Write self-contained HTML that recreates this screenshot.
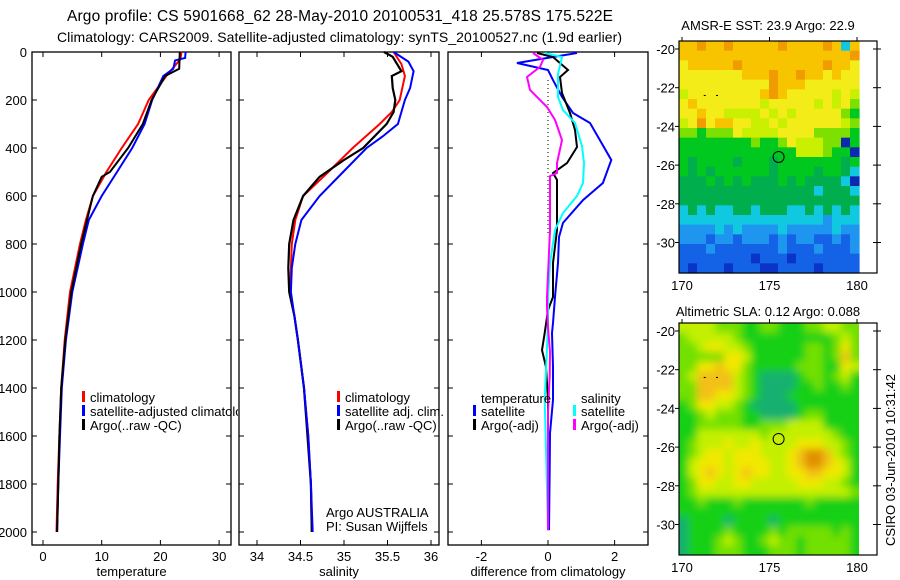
<!DOCTYPE html>
<html><head><meta charset="utf-8"><style>
body{margin:0;background:#fff;}
svg{display:block;font-family:"Liberation Sans",sans-serif;}
</style></head><body>
<svg id="fig" width="900" height="580" viewBox="0 0 900 580">
<defs>
<clipPath id="legclip"><rect x="0" y="380" width="238" height="60"/></clipPath>
<clipPath id="slaclip"><rect x="679" y="323" width="180" height="232"/></clipPath>
<filter id="soft" x="-20%" y="-20%" width="140%" height="140%"><feGaussianBlur stdDeviation="4"/></filter>
</defs>
<rect width="900" height="580" fill="#fff"/>
<text x="67" y="21" font-size="15.5" textLength="546" lengthAdjust="spacing">Argo profile: CS 5901668_62 28-May-2010 20100531_418 25.578S 175.522E</text>
<text x="57" y="42" font-size="14" textLength="565" lengthAdjust="spacing">Climatology: CARS2009. Satellite-adjusted climatology: synTS_20100527.nc (1.9d earlier)</text>
<text x="768" y="30" font-size="13" text-anchor="middle">AMSR-E SST: 23.9 Argo: 22.9</text>
<text x="768" y="316" font-size="13" text-anchor="middle">Altimetric SLA: 0.12 Argo: 0.088</text>
<text transform="translate(895,460) rotate(-90)" font-size="13" text-anchor="middle">CSIRO 03-Jun-2010 10:31:42</text>
<g id="plots"></g>
</svg>
<script>
// ---------- profile data ----------
const tempArgoDepth = [0,70,100,200,300,400,500,520,600,700,800,1000,1200,1400,1600,1800,2000];
const tempArgo = [23.3,23.2,20.8,18.5,17,14.5,11.4,10,8.5,7.5,6.5,4.8,3.8,3.1,2.8,2.6,2.4];
const tempClimDepth = [0,30,100,200,300,400,500,600,700,800,1000,1200,1400,1600,1800,2000];
const tempClim = [23.6,23.4,21,18,16.2,13.4,10.8,8.5,7.3,6.3,4.6,3.7,3.1,2.8,2.5,2.3];
const tempSatDepth = [0,25,35,70,100,200,300,400,500,600,700,800,1000,1200,1400,1600,1800,2000];
const tempSat = [24.3,24.2,22.5,22.2,20.5,18.6,17.3,15.2,12.6,10,7.8,6.8,5.0,3.9,3.2,2.9,2.6,2.4];

const salArgoDepth = [0,20,80,100,150,200,250,300,400,450,520,600,700,800,900,1000,1100,1200,1400,1600,1800,2000];
const salArgo = [35.46,35.56,35.66,35.55,35.56,35.59,35.57,35.49,35.22,35.0,34.72,34.53,34.42,34.37,34.36,34.37,34.43,34.47,34.54,34.58,34.62,34.63];
const salClimDepth = [0,50,100,200,250,300,400,500,600,700,800,1000,1100,1200,1400,1600,1800,2000];
const salClim = [35.57,35.66,35.7,35.64,35.55,35.41,35.1,34.82,34.53,34.44,34.4,34.38,34.43,34.47,34.54,34.59,34.62,34.63];
const salSatDepth = [0,40,80,150,200,300,350,400,500,600,700,800,900,1000,1100,1200,1400,1600,1800,2000];
const salSat = [35.57,35.74,35.8,35.76,35.7,35.62,35.45,35.26,34.99,34.72,34.51,34.44,34.4,34.39,34.43,34.47,34.54,34.59,34.62,34.64];

const dTempSatDepth = [4,46,75,117,187,254,296,367,450,546,617,712,771,879,1021,1129,1171,1312,1450,1588,1729,1992];
const dTempSat = [0.87,-0.93,0,0.15,0.42,0.75,1.26,1.56,1.9,1.65,1.05,0.45,0.33,0.3,0.21,0.15,0.12,0.15,0.15,0.06,0.05,0.03];
const dTempArgoDepth = [4,21,75,104,171,254,325,396,463,504,533,604,742,879,1021,1075,1171,1242,1312,1450,1700,1992];
const dTempArgo = [-0.33,0.15,0.6,0.36,0.42,0.66,0.81,0.87,0.57,0.15,0.27,0.27,0.27,0.15,0.15,0,-0.1,-0.18,-0.06,0,0,0];
const dSalSatDepth = [4,21,92,187,242,296,392,463,546,600,671,742,879,1021,1129,1300,1450,1700,1992];
const dSalSat = [-0.09,0.42,0.3,0.3,0.45,0.81,1.02,1.08,1.05,0.87,0.45,0.21,0.06,0,0,-0.05,-0.1,-0.05,0];
const dSalArgoDepth = [4,33,62,104,158,229,283,367,463,504,517,742,1021,1063,1150,1250,1350,1500,1992];
const dSalArgo = [-0.45,-0.15,-0.24,-0.63,-0.54,-0.03,0.21,0.42,0.27,0.27,0.06,0.06,-0.03,-0.03,0,0.06,0.05,0,0];

const depthTicks = [0,200,400,600,800,1000,1200,1400,1600,1800,2000];
const tempTicks = [0,10,20,30];
const salTicks = [34,34.5,35,35.5,36];
const salTickLabels = ["34","34.5","35","35.5","36"];
const diffTicks = [-2,0,2];

// ---------- map data ----------
const mapLonTicks = [170,175,180];
const mapLatTicks = [-20,-22,-24,-26,-28,-30];
const sstRows = [
 "99a99a99999a9999a939","9999999999999999999a","899999a999999999a998","8888888999a99a998988",
 "8888888888a999888888","7888888889a988888787","89888888878888878786",
 "88988777787878888865","78a89988778788888876","66566687777888866665",
 "555555556556877766b5","5555555555555777655b","54555545554555555545","54545555554555545543",
 "4445454544454544443b","44444444444444434443","44444444444444444444","34343344344433434343",
 "33333333333333332333","22223232222322222322","22212212221212211212","11121111111211121112",
 "11111111011101111111","10111011100111101111"];
const slaRows = [
 "33332221122111223322","23333321111111111232","22344332111111221242","22222443111111221252",
 "22445442111112221143","23555532100001221231","22555532100001121121","22554432100011111111",
 "12443321000001111111","11232221100001221111","11222221122233331111","11333333323333333211",
 "12333433433334443321","12344344433345665321","13444344443345665431","13454345443344554431",
 "12443344333334443321","12333333333333333332","11211121111111211111","11111111111111111111",
 "01111011110111111111","01111211112122222121","01112321123221222221","01112221112221222221"];
const sstColors = ["#0a34c8","#1462e6","#1e96f0","#10c8e0","#00ae4e","#00c81e","#7ee000","#c8f000","#f4ec18","#f8c400","#f09c00","#0a2ab0"];
const slaColors = ["#14b070","#14d014","#72e000","#c2f000","#f2e800","#f2c012","#e09000"];
const floatLon = 175.52, floatLat = -25.58;

const NS = "http://www.w3.org/2000/svg";
const root = document.getElementById('plots');
function mk(tag, attrs, parent){
  const e = document.createElementNS(NS, tag);
  for (const k in attrs) e.setAttribute(k, attrs[k]);
  (parent || root).appendChild(e);
  return e;
}
const Y0 = 52, YS = 0.24;
const yD = d => Y0 + d * YS;

function panel(name, left, right, xf, ticks, labels, xlabel){
  const g = mk('g', {});
  
  
  const r = mk('rect', {x:left, y:52, width:right-left, height:493, fill:'none', stroke:'#000', 'stroke-width':1.3}, g);
  
  
  depthTicks.forEach(d => {
    const t1 = mk('line', {x1:left, x2:left+5, y1:yD(d), y2:yD(d), stroke:'#000'}, g);
    
    
    const t2 = mk('line', {x1:right-5, x2:right, y1:yD(d), y2:yD(d), stroke:'#000'}, g);
    
    
  });
  ticks.forEach((v, i) => {
    const x = xf(v);
    const a = mk('line', {x1:x, x2:x, y1:52, y2:57, stroke:'#000'}, g);
    
    
    const b = mk('line', {x1:x, x2:x, y1:540, y2:545, stroke:'#000'}, g);
    
    
    const tl = mk('text', {x:x, y:561, 'font-size':13, 'text-anchor':'middle'}, g);
    tl.textContent = labels[i];
    
    
  });
  const xl = mk('text', {x:(left+right)/2, y:576, 'font-size':13, 'text-anchor':'middle'}, g);
  xl.textContent = xlabel;
  
  
  return g;
}
function line(g, name, xs, ds, xf, color, w){
  const pts = xs.map((v, i) => xf(v).toFixed(1) + ',' + yD(ds[i]).toFixed(1)).join(' ');
  const p = mk('polyline', {points:pts, fill:'none', stroke:color, 'stroke-width':w, 'stroke-linejoin':'miter'}, g);
  
  
}
function legendEntry(g, x, y, color, label){
  const m = mk('rect', {x:x-1, y:y-6, width:3, height:11, fill:color}, g);
  
  
  const t = mk('text', {x:x+7, y:y+5, 'font-size':13}, g);
  t.textContent = label;
  
  
  return t;
}

depthTicks.forEach(d => {
  const t = mk('text', {x:27, y:yD(d)+5, 'font-size':13, 'text-anchor':'end'});
  t.textContent = String(d);
  
  
});

// temperature panel
const xT = v => 43 + v * 5.87;
const gT = panel('temperature-panel', 32, 231, xT, tempTicks, tempTicks.map(String), 'temperature');
line(gT, 'temp-climatology-line', tempClim, tempClimDepth, xT, '#f00', 2);
line(gT, 'temp-satellite-line', tempSat, tempSatDepth, xT, '#00f', 2);
line(gT, 'temp-argo-line', tempArgo, tempArgoDepth, xT, '#000', 2);
legendEntry(gT, 83, 397, '#f00', 'climatology');
const satLeg = legendEntry(gT, 83, 411, '#00f', 'satellite-adjusted climatology');
satLeg.setAttribute('clip-path', 'url(#legclip)');
legendEntry(gT, 83, 425, '#000', 'Argo(..raw -QC)');

// salinity panel
const xS = v => 257 + (v - 34) * 87;
const gS = panel('salinity-panel', 239, 439, xS, salTicks, salTickLabels, 'salinity');
line(gS, 'sal-climatology-line', salClim, salClimDepth, xS, '#f00', 2);
line(gS, 'sal-argo-line', salArgo, salArgoDepth, xS, '#000', 2.2);
line(gS, 'sal-satellite-line', salSat, salSatDepth, xS, '#00f', 2);
legendEntry(gS, 338, 397, '#f00', 'climatology');
legendEntry(gS, 338, 411, '#00f', 'satellite adj. clim.');
legendEntry(gS, 338, 425, '#000', 'Argo(..raw -QC)');
const a1 = mk('text', {x:326, y:517, 'font-size':13}, gS);
a1.textContent = 'Argo AUSTRALIA';


const a2 = mk('text', {x:326, y:531, 'font-size':13}, gS);
a2.textContent = 'PI: Susan Wijffels';



// difference panel
const xDf = v => 548 + v * 33.3;
const gD = panel('difference-panel', 448, 648, xDf, diffTicks, diffTicks.map(String), 'difference from climatology');
const zl = mk('line', {x1:548, x2:548, y1:80, y2:235, stroke:'#000', 'stroke-dasharray':'1,3'}, gD);


line(gD, 'diff-temp-satellite-line', dTempSat, dTempSatDepth, xDf, '#00f', 2);
line(gD, 'diff-temp-argo-line', dTempArgo, dTempArgoDepth, xDf, '#000', 2);
line(gD, 'diff-sal-satellite-line', dSalSat, dSalSatDepth, xDf, '#0ff', 2);
line(gD, 'diff-sal-argo-line', dSalArgo, dSalArgoDepth, xDf, '#f0f', 2);
const lt = mk('text', {x:481, y:403, 'font-size':13}, gD);
lt.textContent = 'temperature';


const ls = mk('text', {x:581, y:403, 'font-size':13}, gD);
ls.textContent = 'salinity';


legendEntry(gD, 474, 411, '#00f', 'satellite');
legendEntry(gD, 474, 425, '#000', 'Argo(-adj)');
legendEntry(gD, 574, 411, '#0ff', 'satellite');
legendEntry(gD, 574, 425, '#f0f', 'Argo(-adj)');

// maps
function drawMap(name, top, rows, colors, smooth){
  const g = mk('g', {});
  
  
  const L = 679, R = 877, imgR = 859, H = 232;
  const lonX = lon => 682 + (lon - 170) * 17.5;
  const latY = lat => top + 8 + (-lat - 20) * 19.35;
  const nr = rows.length, nc = rows[0].length;
  const cw = (imgR - L) / nc, ch = H / nr;
  const clipG = mk('g', smooth ? {'clip-path':'url(#slaclip)'} : {}, g);
  
  
  const cells = mk('g', smooth ? {filter:'url(#soft)'} : {}, clipG);
  
  
  rows.forEach((row, r) => {
    for (let c = 0; c < nc; c++){
      const v = parseInt(row[c], 16);
      // extend edge cells outward so blur does not fade at borders
      let x = L + c*cw, y = top + r*ch, w = cw + 0.6, h = ch + 0.6;
      if (smooth){
        if (c === 0){ x -= 12; w += 12; }
        if (c === nc-1){ w += 12; }
        if (r === 0){ y -= 12; h += 12; }
        if (r === nr-1){ h += 12; }
      }
      const cell = mk('rect', {x:x.toFixed(2), y:y.toFixed(2), width:w.toFixed(2), height:h.toFixed(2), fill:colors[v]}, cells);
      
      
    }
  });
  const fr = mk('rect', {x:L, y:top, width:R-L, height:H, fill:'none', stroke:'#000', 'stroke-width':1.2}, g);
  
  
  mapLatTicks.forEach(lat => {
    const y = latY(lat);
    const tk = mk('line', {x1:R-4, x2:R+4, y1:y, y2:y, stroke:'#000'}, g);
    
    
    const tl = mk('line', {x1:L-4, x2:L, y1:y, y2:y, stroke:'#000'}, g);
    
    
    const t = mk('text', {x:675, y:y+5, 'font-size':13, 'text-anchor':'end'}, g);
    t.textContent = String(lat);
    
    
  });
  mapLonTicks.forEach(lon => {
    const x = lonX(lon);
    const tk = mk('line', {x1:x, x2:x, y1:top-4, y2:top, stroke:'#000'}, g);
    
    
    const t = mk('text', {x:x, y:top+H+17, 'font-size':13, 'text-anchor':'middle'}, g);
    t.textContent = String(lon);
    
    
  });
  const cx = lonX(floatLon), cy = latY(floatLat);
  const circ = mk('circle', {cx:cx, cy:cy, r:5.5, fill:'none', stroke:'#000', 'stroke-width':1}, g);
  
  
  [171.3, 172].forEach(lon => {
    const d = mk('line', {x1:lonX(lon)-1, x2:lonX(lon)+1, y1:latY(-22.4), y2:latY(-22.4), stroke:'#000'}, g);
    
    
  });
}
drawMap('sst-map', 41, sstRows, sstColors, false);
drawMap('sla-map', 323, slaRows, slaColors, true);
</script>
</body></html>
